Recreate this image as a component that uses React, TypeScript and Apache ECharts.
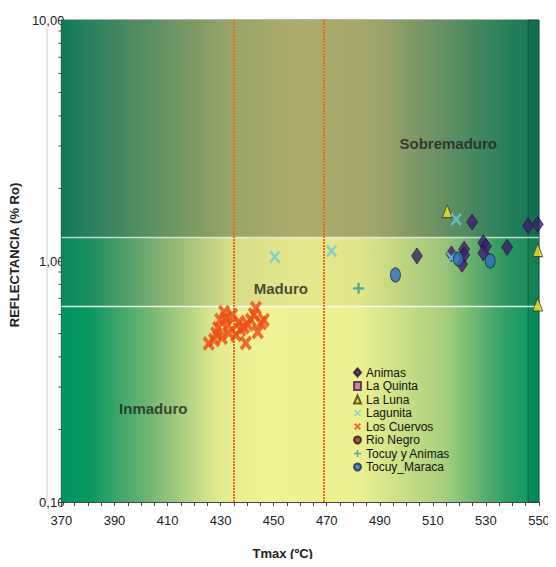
import React, { useEffect, useRef } from "react";
import * as echarts from "echarts";

// ---- data ----
const xTicksRange = { min: 370, max: 550, step: 20 };
const yRange = { min: 0.1, max: 10 };
const yMinorTicks = [0.2, 0.3, 0.4, 0.5, 0.6, 0.7, 0.8, 0.9, 2, 3, 4, 5, 6, 7, 8, 9];

const zoneBounds = [0.1, 0.65, 1.25, 10];
const tmaxLines = [435, 469];
const zoneLabels: { name: string; value: [number, number] }[] = [
  { name: "Sobremaduro", value: [515.8, 3.06] },
  { name: "Maduro", value: [452.7, 0.77] },
  { name: "Inmaduro", value: [404.6, 0.245] },
];

const animas: [number, number][] = [
  [524.8, 1.45], [545.9, 1.4], [549.5, 1.42], [529, 1.19], [530, 1.15],
  [529, 1.08], [538, 1.14], [521.8, 1.12], [521.8, 1.06], [521, 0.97],
  [504, 1.05], [517, 1.07],
];
const laQuinta: [number, number][] = [];
const laLuna: [number, number][] = [[515.4, 1.61], [549.5, 1.11], [549.5, 0.66]];
const lagunita: [number, number][] = [[518.8, 1.49], [517, 1.03], [450.4, 1.04], [471.8, 1.1]];
const losCuervos: [number, number][] = [
  [431.3, 0.614], [429.8, 0.569], [432.8, 0.543], [427.5, 0.47], [438.8, 0.532],
  [436.9, 0.558], [443.3, 0.638], [445.2, 0.553], [444.0, 0.507], [439.5, 0.457],
  [435.8, 0.493], [441.4, 0.569], [433.1, 0.503], [429.0, 0.527], [434.3, 0.597],
  [446.3, 0.569], [425.5, 0.455], [432.0, 0.58], [437.5, 0.52], [440.2, 0.545],
  [428.3, 0.5], [430.5, 0.48], [442.5, 0.6],
];
const rioNegro: [number, number][] = [];
const tocuyAnimas: [number, number][] = [[482, 0.77]];
const tocuyMaraca: [number, number][] = [[519.6, 1.02], [531.6, 1.0], [495.9, 0.875]];

const legendNames = [
  "Animas", "La Quinta", "La Luna", "Lagunita", "Los Cuervos", "Rio Negro",
  "Tocuy y Animas", "Tocuy_Maraca",
];

const FONT = "'Liberation Sans', Arial, sans-serif";
const X_PATH =
  "path://M0,1.5 L1.5,0 L5,3.5 L8.5,0 L10,1.5 L6.5,5 L10,8.5 L8.5,10 L5,6.5 L1.5,10 L0,8.5 L3.5,5 Z";
const THICK_X_PATH =
  "path://M0,2 L2,0 L5,3 L8,0 L10,2 L7,5 L10,8 L8,10 L5,7 L2,10 L0,8 L3,5 Z";
const PLUS_PATH = "path://M4,0 H6 V4 H10 V6 H6 V10 H4 V6 H0 V4 H4 Z";

function grad(stops: [number, string][]) {
  return {
    type: "linear",
    x: 0, y: 0, x2: 1, y2: 0,
    colorStops: stops.map(([offset, color]) => ({ offset, color })),
  };
}

const bottomGrad = grad([
  [0, "#009460"], [0.06, "#0a9861"], [0.2, "#7fba74"], [0.33, "#e4ec8f"],
  [0.42, "#f1f395"], [0.62, "#edf190"], [0.8, "#a9cf7e"], [0.93, "#2fa064"], [1, "#009862"],
]);
const midGrad = grad([
  [0, "#07895c"], [0.06, "#1a8e5f"], [0.2, "#7fae70"], [0.35, "#d6dd86"],
  [0.5, "#e6e88c"], [0.62, "#e2e688"], [0.8, "#9cc57a"], [0.93, "#2c965f"], [1, "#138c5c"],
]);
const topGrad = grad([
  [0, "#0f7a57"], [0.1, "#3b8460"], [0.35, "#98a468"], [0.5, "#aeac6c"],
  [0.65, "#a3a66a"], [0.82, "#5c8e62"], [0.95, "#1f7c58"], [1, "#177857"],
]);

export default function App() {
  const ref = useRef<HTMLDivElement>(null);
  useEffect(() => {
    if (!ref.current) return;
    const chart = echarts.init(ref.current, null, { renderer: "svg" });
    const xmin = xTicksRange.min;
    const xmax = xTicksRange.max;
    const scatterBase = { type: "scatter", z: 5, clip: false };
    chart.setOption({
      animation: false,
      textStyle: { fontFamily: FONT },
      grid: {
        left: 60, right: 17, top: 20, bottom: 65,
        show: true, borderColor: "#666", borderWidth: 1, backgroundColor: "transparent",
      },
      legend: {
        data: legendNames,
        orient: "vertical",
        left: 353,
        top: 366,
        padding: 0,
        itemGap: 0.5,
        itemWidth: 7,
        itemHeight: 8,
        selectedMode: false,
        textStyle: { fontSize: 12, lineHeight: 13, color: "#111", fontFamily: FONT },
      },
      xAxis: {
        type: "value",
        min: xmin,
        max: xmax,
        interval: xTicksRange.step,
        name: "Tmax (ºC)",
        nameLocation: "middle",
        nameGap: 45,
        nameTextStyle: { fontSize: 13, fontWeight: "bold", color: "#222", padding: [0, 35, 0, 0] },
        axisLine: { show: true, lineStyle: { color: "#444", width: 1.2 } },
        axisTick: { show: true, length: 4, lineStyle: { color: "#444" } },
        minorTick: { show: true, splitNumber: 4, length: 4, lineStyle: { color: "#444" } },
        axisLabel: { fontSize: 13, color: "#222", margin: 12 },
        splitLine: { show: false },
      },
      yAxis: {
        type: "log",
        logBase: 10,
        min: yRange.min,
        max: yRange.max,
        name: "REFLECTANCIA (% Ro)",
        nameLocation: "middle",
        nameGap: 36,
        nameTextStyle: { fontSize: 13, fontWeight: "bold", color: "#222", padding: [0, 0, 0, 12] },
        axisLine: { show: true, lineStyle: { color: "#444", width: 1.2 } },
        axisTick: { show: true, length: 3, lineStyle: { color: "#444" } },
        axisLabel: {
          fontSize: 13,
          color: "#222",
          margin: -3,
          formatter: (v: number) => v.toFixed(2).replace(".", ","),
        },
        splitLine: { show: false },
      },
      graphic: [
        {
          type: "line",
          shape: { x1: 47, y1: 28, x2: 47, y2: 503 },
          style: { stroke: "#c8c8c8", lineWidth: 1 },
          silent: true,
          z: 10,
        },
      ],
      series: [
        {
          type: "scatter",
          name: "zones",
          z: 1,
          silent: true,
          symbolSize: 0,
          data: zoneLabels,
          label: {
            show: true,
            position: "inside",
            formatter: "{b}",
            fontSize: 15,
            fontWeight: "bold",
            color: "#1e1e1e",
            fontFamily: FONT,
          },
          markArea: {
            silent: true,
            data: [
              [{ xAxis: xmin, yAxis: zoneBounds[0], itemStyle: { color: bottomGrad } }, { xAxis: xmax, yAxis: zoneBounds[1] }],
              [{ xAxis: xmin, yAxis: zoneBounds[1], itemStyle: { color: midGrad } }, { xAxis: xmax, yAxis: zoneBounds[2] }],
              [{ xAxis: xmin, yAxis: zoneBounds[2], itemStyle: { color: topGrad } }, { xAxis: xmax, yAxis: zoneBounds[3] }],
              [
                {
                  xAxis: 545.9,
                  yAxis: zoneBounds[0],
                  itemStyle: { color: "rgba(0,60,35,0.16)", borderColor: "rgba(0,50,30,0.45)", borderWidth: 1 },
                },
                { xAxis: xmax, yAxis: zoneBounds[3] },
              ],
            ],
          },
        },
        {
          type: "scatter",
          name: "lines",
          z: 3,
          silent: true,
          symbolSize: 0,
          data: [[xmin, 1]],
          markLine: {
            silent: true,
            symbol: "none",
            label: { show: false },
            data: [
              { yAxis: zoneBounds[1], lineStyle: { color: "rgba(255,255,255,0.85)", width: 1.3, type: "solid" } },
              { yAxis: zoneBounds[2], lineStyle: { color: "rgba(255,255,255,0.65)", width: 1.3, type: "solid" } },
              { xAxis: tmaxLines[0], lineStyle: { color: "#f26a10", width: 2, type: [2, 1] } },
              { xAxis: tmaxLines[1], lineStyle: { color: "#f26a10", width: 2, type: [2, 1] } },
            ],
          },
        },
        {
          type: "custom",
          name: "yminor",
          z: 4,
          silent: true,
          clip: false,
          data: yMinorTicks.map((v) => [xmin, v]),
          encode: { x: 0, y: 1 },
          renderItem: (params: any, api: any) => {
            const p = api.coord([api.value(0), api.value(1)]);
            return {
              type: "line",
              shape: { x1: p[0] - 3, y1: p[1], x2: p[0], y2: p[1] },
              style: { stroke: "#444", lineWidth: 1 },
            };
          },
        },
        {
          ...scatterBase,
          name: "Animas",
          data: animas,
          symbol: "diamond",
          symbolSize: [11, 16],
          itemStyle: { color: "#3d1e6d", borderColor: "#1e0c3c", borderWidth: 0.8 },
        },
        {
          ...scatterBase,
          name: "La Quinta",
          data: laQuinta,
          symbol: "rect",
          symbolSize: 9,
          itemStyle: { color: "#c564a4", borderColor: "#4a2040", borderWidth: 1 },
        },
        {
          ...scatterBase,
          name: "La Luna",
          data: laLuna,
          symbol: "triangle",
          symbolSize: [10, 13],
          itemStyle: { color: "#f2e21c", borderColor: "#3a3a20", borderWidth: 1 },
        },
        {
          ...scatterBase,
          name: "Lagunita",
          data: lagunita,
          symbol: X_PATH,
          symbolSize: [11, 13],
          itemStyle: { color: "#6ec8dc" },
        },
        {
          ...scatterBase,
          name: "Los Cuervos",
          data: losCuervos,
          symbol: THICK_X_PATH,
          symbolSize: [12, 15],
          itemStyle: { color: "#f04a12" },
        },
        {
          ...scatterBase,
          name: "Rio Negro",
          data: rioNegro,
          symbol: "circle",
          symbolSize: [8, 10],
          itemStyle: { color: "#8a3434", borderColor: "#3a1010", borderWidth: 1 },
        },
        {
          ...scatterBase,
          name: "Tocuy y Animas",
          data: tocuyAnimas,
          symbol: PLUS_PATH,
          symbolSize: 11,
          itemStyle: { color: "#1e9aa0" },
        },
        {
          ...scatterBase,
          name: "Tocuy_Maraca",
          data: tocuyMaraca,
          symbol: "circle",
          symbolSize: [10, 14],
          itemStyle: { color: "#2c6ec4", borderColor: "#1a2a4c", borderWidth: 1 },
        },
      ],
    });
    return () => chart.dispose();
  }, []);
  return <div ref={ref} style={{ width: 556, height: 567, margin: -8 }} />;
}
